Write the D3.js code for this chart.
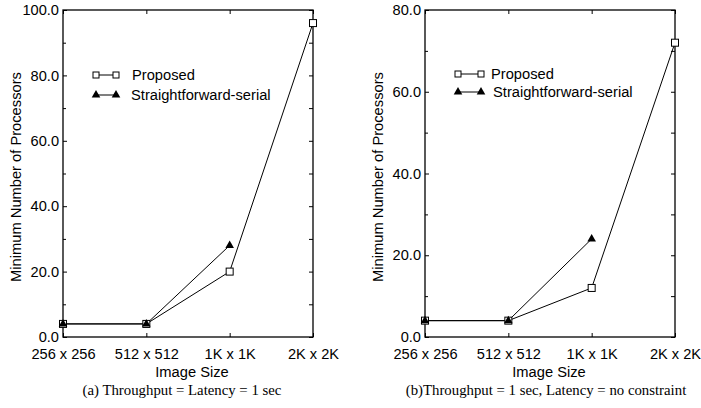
<!DOCTYPE html>
<html>
<head>
<meta charset="utf-8">
<script src="https://cdn.jsdelivr.net/npm/d3@7"></script>
<style>
  body { margin: 0; background: #fff; }
  svg { display: block; }
  .tick text { font-family: "Liberation Sans", Arial, sans-serif; font-size: 14.6px; fill: #000; }
</style>
</head>
<body>
<svg id="chart" width="701" height="408"></svg>
<script>
// ---- Data ----
const categories = ["256 x 256", "512 x 512", "1K x 1K", "2K x 2K"];
const seriesNames = ["Proposed", "Straightforward-serial"];

const proposedA = [4, 4, 20, 96];
const straightA = [4, 4, 28];
const yTicksA = [0, 20, 40, 60, 80, 100];
const yMaxA = 100;
const captionA = "(a) Throughput = Latency = 1 sec";

const proposedB = [4, 4, 12, 72];
const straightB = [4, 4, 24];
const yTicksB = [0, 20, 40, 60, 80];
const yMaxB = 80;
const captionB = "(b)Throughput = 1 sec, Latency = no constraint";

const xTitle = "Image Size";
const yTitle = "Minimum Number of Processors";

// ---- Drawing ----
const svg = d3.select("#chart");
const sans = '"Liberation Sans", Arial, sans-serif';
const serif = '"Liberation Serif", "Times New Roman", serif';
const FS = 14.7;

function drawPanel(cfg) {
  const { left, right, top, bottom, proposed, straight, yTicks, yMax, caption, legend, yTitleX } = cfg;
  const x = d3.scalePoint().domain(categories).range([left, right]).padding(0);
  const y = d3.scaleLinear().domain([0, yMax]).range([bottom, top]);
  const g = svg.append("g");

  const minor = d3.range(10, yMax, 20);

  // frame
  g.append("rect").attr("x", left).attr("y", top)
    .attr("width", right - left).attr("height", bottom - top)
    .attr("fill", "none").attr("stroke", "#000").attr("stroke-width", 1.3);

  // left axis
  const ya = g.append("g").attr("transform", `translate(${left},0)`)
    .call(d3.axisLeft(y).tickValues(yTicks).tickFormat(d3.format(".1f")).tickSizeInner(-4).tickSizeOuter(0).tickPadding(4));
  ya.select(".domain").remove();
  ya.selectAll(".tick text").attr("x", -4);
  g.append("g").attr("transform", `translate(${left},0)`)
    .call(d3.axisLeft(y).tickValues(minor).tickFormat("").tickSizeInner(-3).tickSizeOuter(0))
    .select(".domain").remove();
  // right axis ticks
  const ra = g.append("g").attr("transform", `translate(${right},0)`)
    .call(d3.axisRight(y).tickValues(yTicks.concat(minor)).tickFormat("").tickSizeInner(-4).tickSizeOuter(0));
  ra.select(".domain").remove();

  // bottom axis
  const xa = g.append("g").attr("transform", `translate(0,${bottom})`)
    .call(d3.axisBottom(x).tickSizeInner(-4).tickSizeOuter(0).tickPadding(12));
  xa.select(".domain").remove();
  xa.selectAll(".tick text").attr("y", 11.5);
  const ta = g.append("g").attr("transform", `translate(0,${top})`)
    .call(d3.axisTop(x).tickSizeInner(-4).tickSizeOuter(0).tickFormat(""));
  ta.select(".domain").remove();
  g.selectAll(".tick line").attr("stroke", "#000");

  // lines
  const line = d3.line().x((d, i) => x(categories[i])).y(d => y(d));
  g.append("path").datum(proposed).attr("d", line)
    .attr("fill", "none").attr("stroke", "#000").attr("stroke-width", 1);
  g.append("path").datum(straight).attr("d", line)
    .attr("fill", "none").attr("stroke", "#000").attr("stroke-width", 1);

  const sq = 7;
  const tri = d3.symbol().type(d3.symbolTriangle).size(32);
  g.selectAll(".sq").data(proposed).enter().append("rect")
    .attr("x", (d, i) => x(categories[i]) - sq / 2)
    .attr("y", d => y(d) - sq / 2)
    .attr("width", sq).attr("height", sq)
    .attr("fill", "#fff").attr("stroke", "#000").attr("stroke-width", 1);
  g.selectAll(".tri").data(straight).enter().append("path")
    .attr("d", tri)
    .attr("transform", (d, i) => `translate(${x(categories[i])},${y(d)})`)
    .attr("fill", "#000");

  // legend
  const L = legend;
  g.append("line").attr("x1", L.x1).attr("x2", L.x2).attr("y1", L.y1).attr("y2", L.y1)
    .attr("stroke", "#000");
  [L.x1, L.x2].forEach(px => {
    g.append("rect").attr("x", px - 3).attr("y", L.y1 - 3).attr("width", 6).attr("height", 6)
      .attr("fill", "#fff").attr("stroke", "#000");
  });
  g.append("text").attr("x", L.t1).attr("y", L.y1).attr("dy", "0.35em")
    .attr("font-family", sans).attr("font-size", FS).text(seriesNames[0]);
  g.append("line").attr("x1", L.x1).attr("x2", L.x2).attr("y1", L.y2).attr("y2", L.y2)
    .attr("stroke", "#000");
  [L.x1, L.x2].forEach(px => {
    g.append("path").attr("d", tri).attr("transform", `translate(${px},${L.y2})`).attr("fill", "#000");
  });
  g.append("text").attr("x", L.t2).attr("y", L.y2).attr("dy", "0.35em")
    .attr("font-family", sans).attr("font-size", FS).text(seriesNames[1]);

  // titles
  g.append("text").attr("transform", `translate(${yTitleX},${cfg.yTitleY}) rotate(-90)`)
    .attr("text-anchor", "middle").attr("dy", "0.35em")
    .attr("font-family", sans).attr("font-size", FS).text(yTitle);
  g.append("text").attr("x", cfg.xTitleX).attr("y", 372).attr("dy", "0.35em")
    .attr("text-anchor", "middle").attr("font-family", sans).attr("font-size", FS).text(xTitle);
  g.append("text").attr("x", cfg.capX).attr("y", 390).attr("dy", "0.35em")
    .attr("text-anchor", "middle").attr("font-family", serif).attr("font-size", 14.8).text(caption);
}

drawPanel({
  left: 63, right: 313, top: 10, bottom: 337,
  proposed: proposedA, straight: straightA, yTicks: yTicksA, yMax: yMaxA,
  caption: captionA, yTitleX: 16, yTitleY: 177, xTitleX: 192, capX: 182,
  legend: { x1: 96, x2: 116, y1: 75, y2: 95, t1: 132, t2: 131 }
});
drawPanel({
  left: 425, right: 675, top: 10, bottom: 337,
  proposed: proposedB, straight: straightB, yTicks: yTicksB, yMax: yMaxB,
  caption: captionB, yTitleX: 378, yTitleY: 177, xTitleX: 549, capX: 546,
  legend: { x1: 458, x2: 481, y1: 74, y2: 92, t1: 491, t2: 493 }
});
</script>
</body>
</html>
